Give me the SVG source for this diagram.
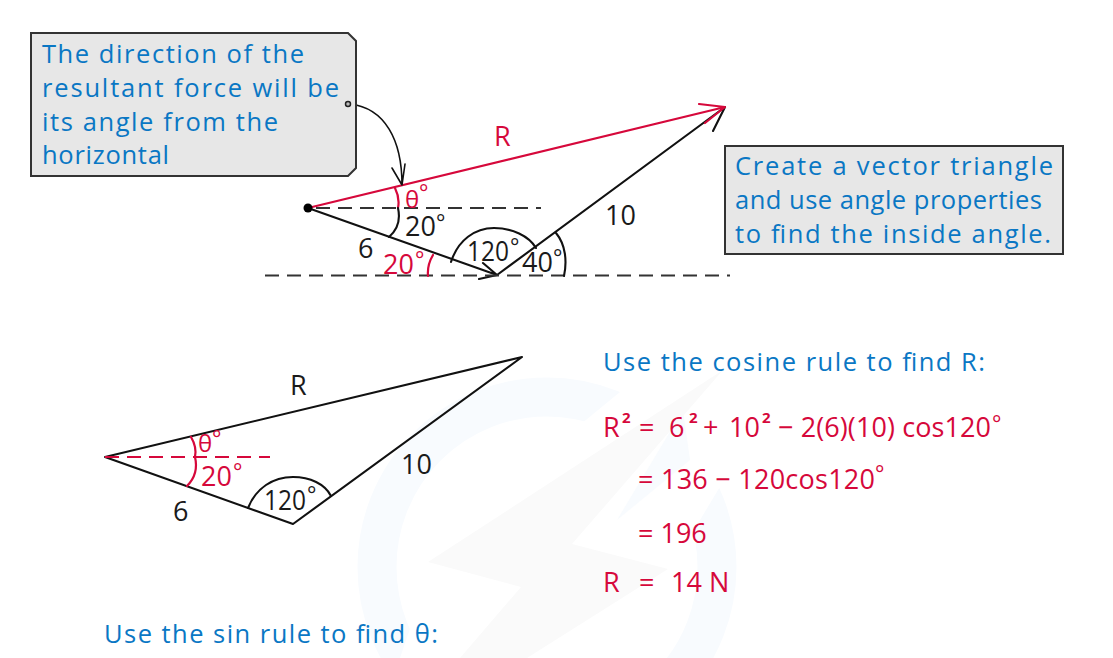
<svg xmlns="http://www.w3.org/2000/svg" width="1113" height="658" viewBox="0 0 1113 658">
<style>
text{font-family:"Open Sans","Liberation Sans",sans-serif}
.b{fill:#0a77c4;font-size:25.500px}
.r{fill:#d6083b;font-size:27px}
.k{fill:#1a1a1a;font-size:27px}
.s{font-size:15px;font-weight:700}
.dg{font-size:22px}
.box{fill:#e7e7e7;stroke:#333;stroke-width:2}
.l{fill:none;stroke:#111;stroke-width:2.100;stroke-linecap:round;stroke-linejoin:round}
.lr{fill:none;stroke:#d6083b;stroke-width:2.200;stroke-linecap:round;stroke-linejoin:round}
.d{stroke-dasharray:14 8;stroke-linecap:butt}
</style>
<rect width="1113" height="658" fill="#fff"/>
<g id="watermark">
<circle cx="547" cy="567" r="170" fill="none" stroke="#f8fbfe" stroke-width="39"/>
<path d="M700 372L620 392L440 540L400 658L560 658L700 520L760 420Z" fill="#fff"/>
<path d="M683 410L617 520L690 460Z" fill="#f8fbfe"/>
<path d="M723 370L428 562L521 587L460 658L527 658L668 569L572 544Z" fill="#fafafa"/>
</g>
<g id="connectors">
<path class="l" d="M308 208L497 275M479 279L497 275L483 263"/>
<path class="l" d="M497 275L725 107M713 131L725 107"/>
<path class="lr" d="M308 208L725 107M699 104L725 107L705 123"/>
<path class="l d" style="stroke:#333" d="M316 208H541M265 275.500H730"/>
<path class="l" style="stroke-width:1.600" d="M350 104C385 108 402 140 402 185M392 168L402 185L405 164"/>
<path class="l" d="M105 457L522 357L293 524Z"/>
<path class="lr d" d="M105 457H270"/>
</g>
<g id="origin"><circle cx="308" cy="208" r="4.500" fill="#000"/></g>
<g id="callout-direction">
<path class="box" d="M31 33H348L356 41V168L348 176H31Z"/>
<circle cx="348" cy="104" r="2.500" fill="#bbb" stroke="#222" stroke-width="1.500"/>
<text class="b" x="42" y="63" textLength="262" lengthAdjust="spacing">The direction of the</text>
<text class="b" x="42" y="97" textLength="297" lengthAdjust="spacing">resultant force will be</text>
<text class="b" x="42" y="131" textLength="236" lengthAdjust="spacing">its angle from the</text>
<text class="b" x="42" y="164" textLength="127" lengthAdjust="spacing">horizontal</text>
</g>
<g id="callout-triangle">
<path class="box" d="M725 146H1063V254H725Z"/>
<text class="b" x="735" y="175" textLength="318" lengthAdjust="spacing">Create a vector triangle</text>
<text class="b" x="735" y="209" textLength="307" lengthAdjust="spacing">and use angle properties</text>
<text class="b" x="735" y="243" textLength="316" lengthAdjust="spacing">to find the inside angle.</text>
</g>
<g id="vector-labels">
<path class="lr" d="M395 188Q400 198 398 208M428 276Q427 265 433 255"/>
<path class="l" d="M398 208Q402 226 389 237M451 262C458 240 475 228 494 228C512 228 529 236 536 248M556 233C566 245 567 262 564 276"/>
<text class="r" x="494" y="146">R</text>
<text class="r" x="405" y="208" style="font-size:24px">θ</text><text class="r dg" x="419" y="200">°</text>
<text class="k" x="405" y="236">20</text><text class="k dg" x="436" y="230">°</text>
<text class="k" x="358" y="258">6</text>
<text class="r" x="383" y="274">20</text><text class="r dg" x="415" y="267">°</text>
<text class="k" x="467" y="261" textLength="42" lengthAdjust="spacingAndGlyphs">120</text><text class="k dg" x="510" y="254">°</text>
<text class="k" x="522" y="272">40</text><text class="k dg" x="553" y="265">°</text>
<text class="k" x="605" y="225">10</text>
</g>
<g id="triangle-labels">
<path class="lr" d="M191 437Q197 447 195 457M195 457Q199 474 187 486"/>
<path class="l" d="M248 508C256 488 273 477 293 477C310 477 325 484 331 496"/>
<text class="k" x="290" y="395">R</text>
<text class="k" x="401" y="474">10</text>
<text class="k" x="173" y="521">6</text>
<text class="k" x="264" y="510" textLength="42" lengthAdjust="spacingAndGlyphs">120</text><text class="k dg" x="307" y="502">°</text>
<text class="r" x="198" y="452" style="font-size:24px">θ</text><text class="r dg" x="212" y="446">°</text>
<text class="r" x="201" y="486">20</text><text class="r dg" x="233" y="479">°</text>
</g>
<g id="working">
<text class="b" x="603" y="371" textLength="382" lengthAdjust="spacing">Use the cosine rule to find R:</text>
<text class="r" x="603" y="437">R</text><text class="r s" x="622" y="423">2</text>
<text class="r" x="639" y="437">=</text>
<text class="r" x="669" y="437">6</text><text class="r s" x="689" y="423">2</text>
<text class="r" x="703" y="437">+</text><text class="r" x="729" y="437">10</text><text class="r s" x="762" y="423">2</text>
<text class="r" x="778" y="437" textLength="213" lengthAdjust="spacing">− 2(6)(10) cos120</text><text class="r dg" x="992" y="431">°</text>
<text class="r" x="638" y="489" textLength="237" lengthAdjust="spacing">= 136 − 120cos120</text><text class="r dg" x="875" y="481">°</text>
<text class="r" x="638" y="543">= 196</text>
<text class="r" x="603" y="592">R</text>
<text class="r" x="639" y="592">=</text>
<text class="r" x="671" y="592">14 N</text>
<text class="b" x="104" y="643" textLength="334" lengthAdjust="spacing">Use the sin rule to find θ:</text>
</g>
</svg>
